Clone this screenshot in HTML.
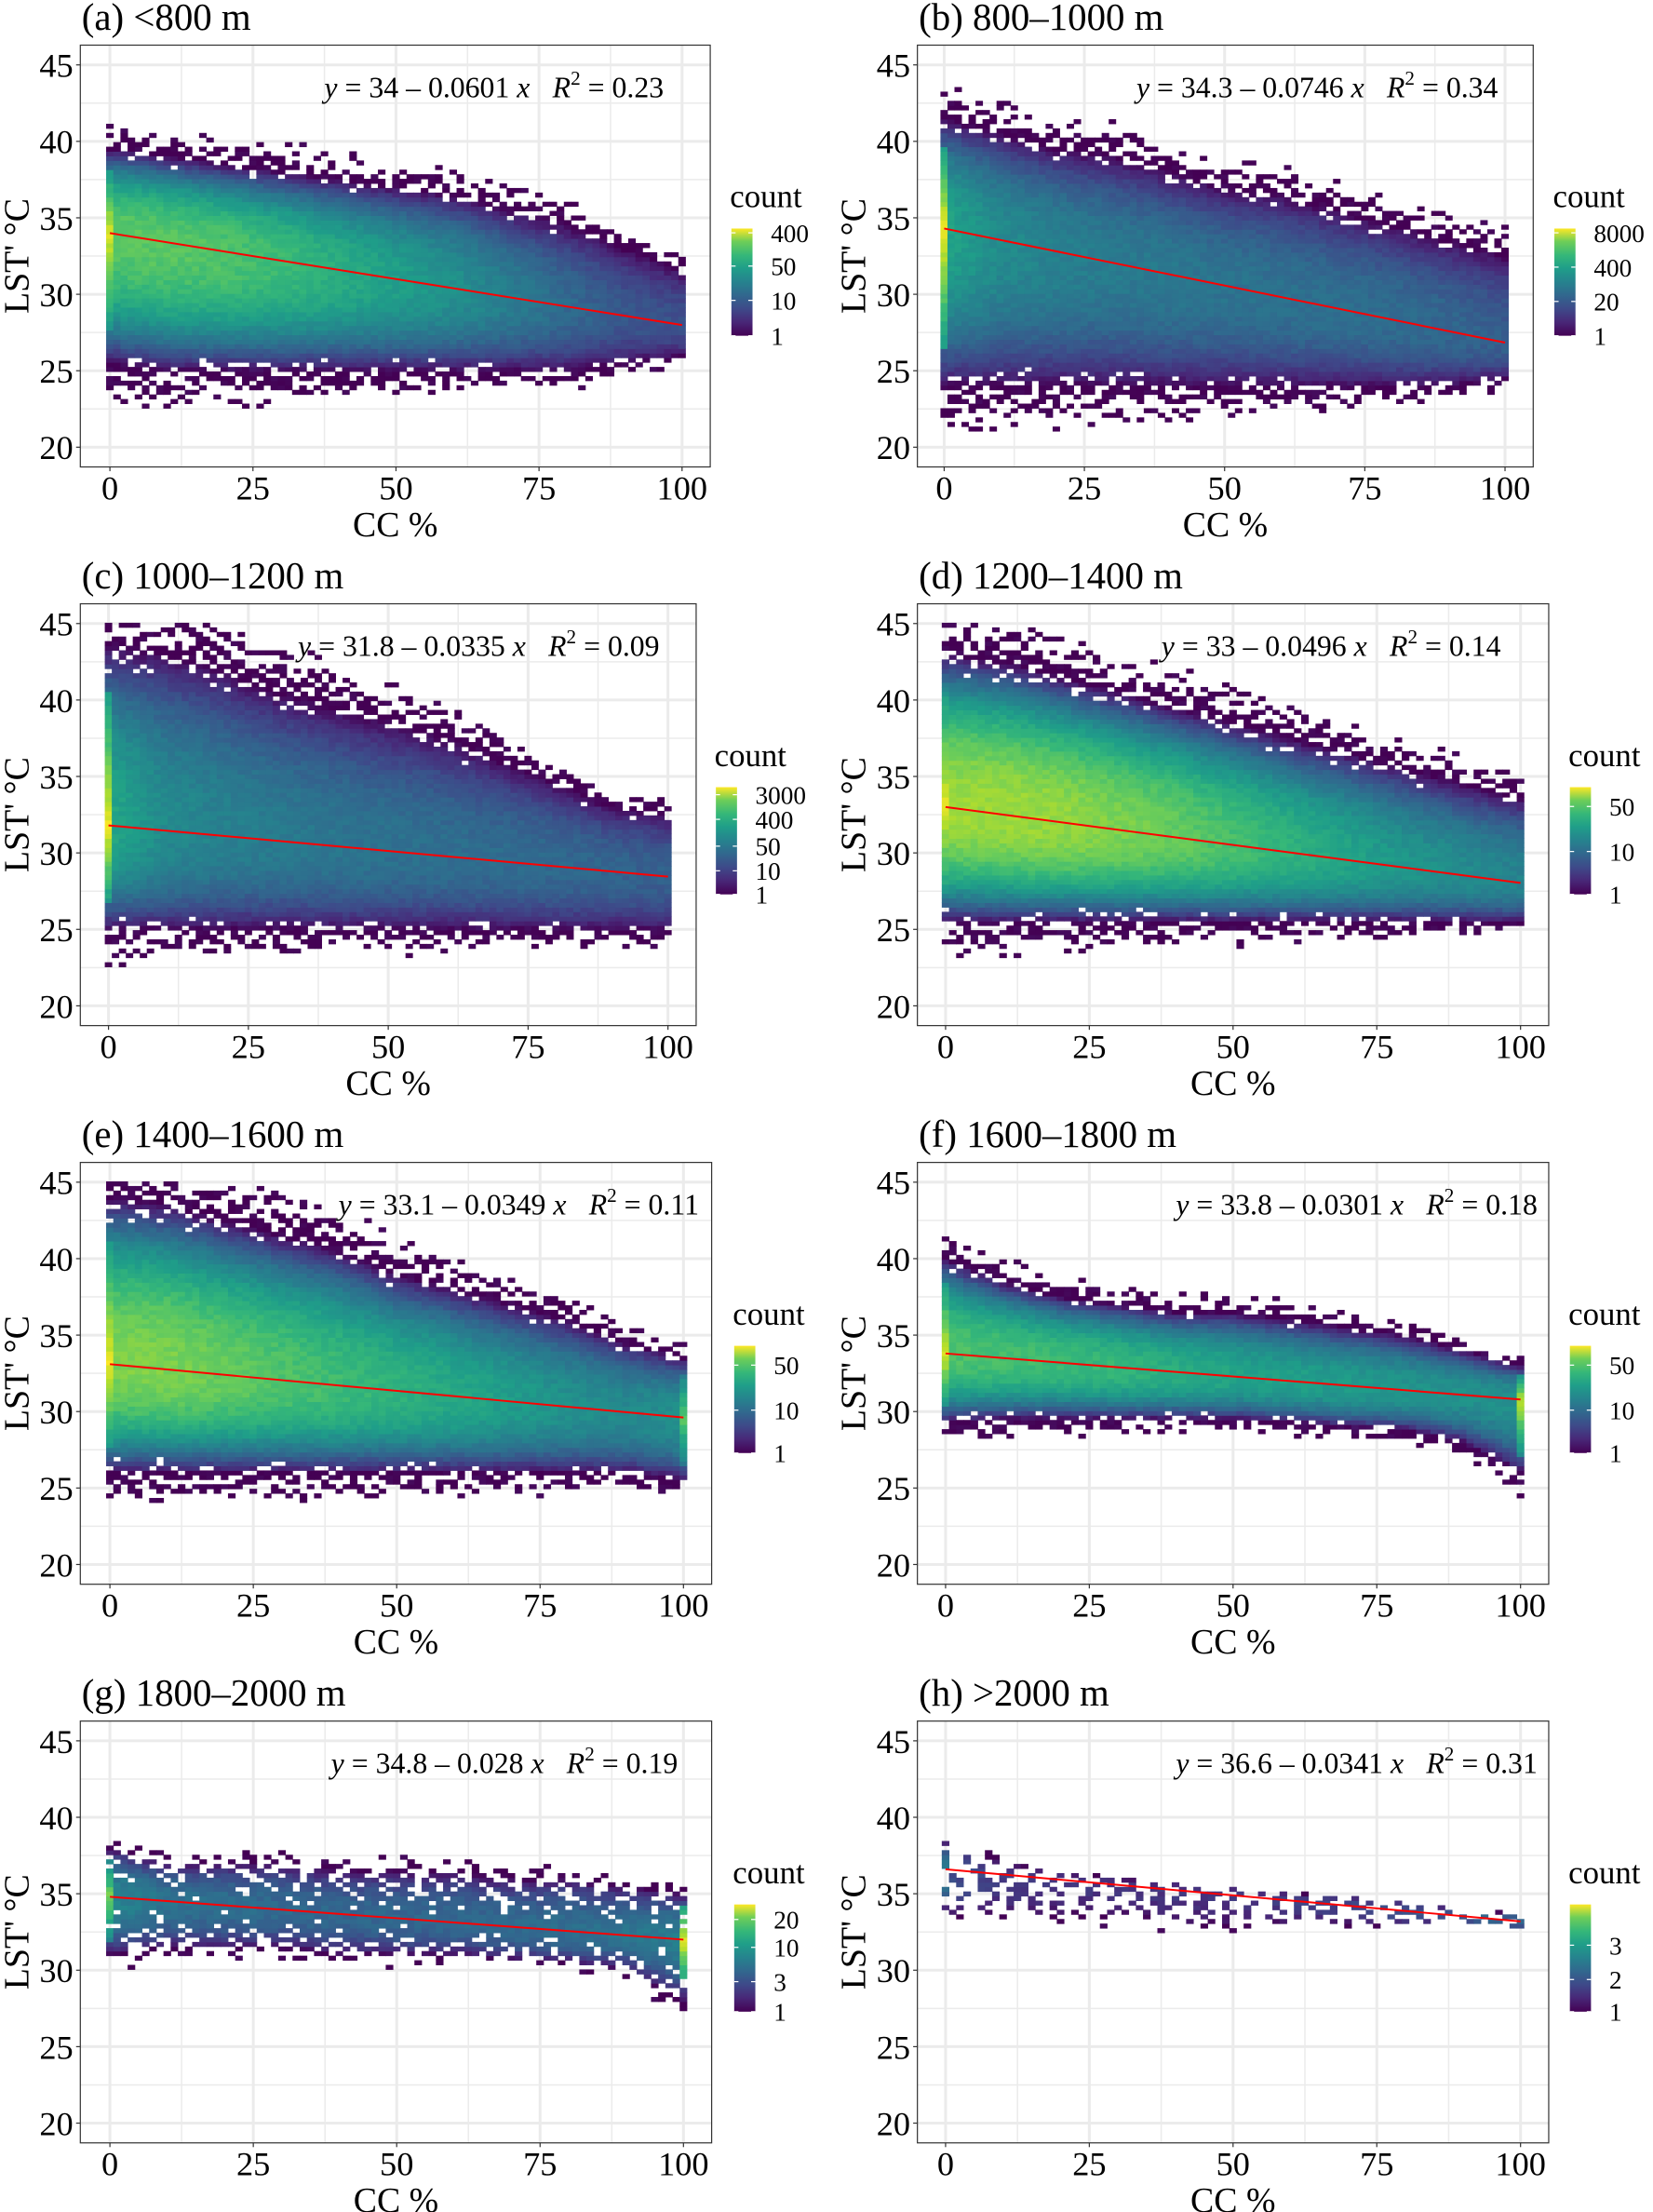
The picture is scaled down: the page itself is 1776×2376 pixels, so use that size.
<!DOCTYPE html>
<html><head><meta charset="utf-8">
<style>
html,body{margin:0;padding:0;background:#fff;}
svg{display:block;}
text{font-family:"Liberation Serif",serif;fill:#000;}
</style></head>
<body>
<svg id="fig" width="1776" height="2376" viewBox="0 0 1173 1568" preserveAspectRatio="none" xmlns="http://www.w3.org/2000/svg">
<defs>
<linearGradient id="vir" x1="0" y1="1" x2="0" y2="0">
<stop offset="0" stop-color="#440154"/><stop offset="0.13" stop-color="#482878"/><stop offset="0.25" stop-color="#3e4989"/><stop offset="0.38" stop-color="#31688e"/><stop offset="0.5" stop-color="#26828e"/><stop offset="0.63" stop-color="#1f9e89"/><stop offset="0.75" stop-color="#35b779"/><stop offset="0.88" stop-color="#6ece58"/><stop offset="1" stop-color="#fde725"/>
</linearGradient>
</defs>
</svg>
<script>
// ---- data ----
const panelTitles = ["(a) <800 m","(b) 800–1000 m","(c) 1000–1200 m","(d) 1200–1400 m","(e) 1400–1600 m","(f) 1600–1800 m","(g) 1800–2000 m","(h) >2000 m"];
const intercepts = [34, 34.3, 31.8, 33, 33.1, 33.8, 34.8, 36.6];
const slopes = [-0.0601, -0.0746, -0.0335, -0.0496, -0.0349, -0.0301, -0.028, -0.0341];
const r2Values = ["0.23","0.34","0.09","0.14","0.11","0.18","0.19","0.31"];
const ccSamples = [0,10,20,30,40,50,60,70,80,90,100];
const topEdge = [
 [39.5,39,38.5,38,37.5,37,36.5,35.5,34.5,33,31.5],
 [41.5,40.5,39.5,39,38,37,36.5,35.5,34.5,33.5,32.5],
 [43.5,43,42,40.5,39.5,38.5,37.5,36,34.5,33,32.5],
 [43,42.5,41.5,40.5,39.5,38.5,37.5,36.5,35.5,34.5,33.5],
 [44,43.5,42.5,41.5,40.5,39,38,37,36,34.5,33.5],
 [40,38.5,37.5,37,36.5,36.5,36,35.5,35,34,33],
 [38,37,37,37,36.5,36.5,36.5,36,36,35.5,35],
 [38.5,37,36.5,36,35.5,35.5,35,35,34.5,34,33.5]];
const bottomEdge = [
 [25.5,25,25,25,25,25,25,25,25,25.5,26],
 [24,24,24,24,24,24,24,24,24,24,24.5],
 [25,25,25,25,25,25,25,25,25,25,25],
 [25.5,25.5,25.5,25.5,25.5,25.5,25.5,25.5,25.5,25.5,25.5],
 [26,26,26,26,26,26,26,26,26,26,25.5],
 [29.3,29.5,29.5,29.5,29.5,29.5,29.3,29,28.8,28,26],
 [31,31.5,31.5,31.5,31,31,31,30.7,30.5,30,28],
 [33.5,33.5,33.5,33.5,33,33,33,33,33,33,33]];
const peakLevel = [
 [0.74,0.74,0.72,0.68,0.62,0.56,0.5,0.42,0.34,0.27,0.25],
 [0.58,0.48,0.44,0.41,0.4,0.38,0.37,0.36,0.35,0.33,0.3],
 [0.6,0.48,0.44,0.41,0.39,0.37,0.36,0.35,0.34,0.32,0.3],
 [0.85,0.85,0.84,0.8,0.76,0.7,0.64,0.58,0.52,0.48,0.45],
 [0.8,0.8,0.76,0.72,0.68,0.64,0.6,0.55,0.5,0.47,0.5],
 [0.72,0.7,0.68,0.66,0.62,0.58,0.56,0.54,0.52,0.5,0.5],
 [0.46,0.38,0.36,0.34,0.33,0.33,0.33,0.34,0.36,0.38,0.43],
 [0.25,0.18,0.15,0.15,0.15,0.15,0.18,0.2,0.25,0.3,0.35]];
const edgeColumnLevel = [[0.95,0],[0.98,0],[0.97,0],[0.97,0],[0.98,0.75],[0.95,0.9],[0.8,0.95],[0.45,0.3]];
const fillFraction = [1,1,1,1,1,1,0.8,0.35];
const legendLabels = [["1","10","50","400"],["1","20","400","8000"],["1","10","50","400","3000"],["1","10","50"],["1","10","50"],["1","10","50"],["1","3","10","20"],["1","2","3"]];
const legendFracs = [[0,0.33,0.65,0.96],[0,0.32,0.64,0.96],[0,0.22,0.45,0.7,0.93],[0,0.4,0.82],[0,0.4,0.82],[0,0.4,0.82],[0,0.28,0.6,0.86],[0,0.3,0.62]];
const yTicks = [20,25,30,35,40,45];
const xTicks = [0,25,50,75,100];

// ---- layout (display units) ----
const NS="http://www.w3.org/2000/svg";
const svg=document.getElementById('fig');
function mk(tag,attrs,parent){const e=document.createElementNS(NS,tag);for(const k in attrs)e.setAttribute(k,attrs[k]);(parent||svg).appendChild(e);return e;}
const geo=[
 {L:57,R:504,T:32,B:331,x0:78,x100:484,leg:519,eqEnd:471},
 {L:651,R:1088,T:32,B:331,x0:670,x100:1068,leg:1103,eqEnd:1063},
 {L:57,R:494,T:428,B:727,x0:77,x100:474,leg:508,eqEnd:468},
 {L:651,R:1099,T:428,B:727,x0:671,x100:1079,leg:1114,eqEnd:1065},
 {L:57,R:505,T:824,B:1123,x0:78,x100:485,leg:521,eqEnd:496},
 {L:651,R:1099,T:824,B:1123,x0:671,x100:1079,leg:1114,eqEnd:1091},
 {L:57,R:505,T:1220,B:1519,x0:78,x100:485,leg:521,eqEnd:481},
 {L:651,R:1099,T:1220,B:1519,x0:671,x100:1079,leg:1114,eqEnd:1091}];
const VIR=[[68,1,84],[72,40,120],[62,73,137],[49,104,142],[38,130,142],[31,158,137],[53,183,121],[110,206,88],[181,222,43],[253,231,37]];
function vir(t){t=Math.max(0,Math.min(1,t));const p=t*(VIR.length-1);const i=Math.min(VIR.length-2,Math.floor(p));const f=p-i;const a=VIR[i],b=VIR[i+1];return `rgb(${Math.round(a[0]+(b[0]-a[0])*f)},${Math.round(a[1]+(b[1]-a[1])*f)},${Math.round(a[2]+(b[2]-a[2])*f)})`;}
function hash(a,b,c){let h=(a*374761393+b*668265263+c*2147483647)>>>0;h=((h^(h>>>13))*1274126177)>>>0;return ((h^(h>>>16))>>>0)/4294967295;}
function interp(arr,x){const p=x/10;const i=Math.min(9,Math.floor(p));const f=p-i;return arr[i]+(arr[i+1]-arr[i])*f;}

for(let k=0;k<8;k++){
 const g=geo[k];
 const sx=v=>g.x0+(g.x100-g.x0)*v/100;
 const y45=g.T+14, y20=g.B-14;
 const sy=v=>y20+(y45-y20)*(v-20)/25;
 const grp=mk('g',{});
 
 
 mk('rect',{x:g.L,y:g.T,width:g.R-g.L,height:g.B-g.T,fill:'#fff'},grp);
 for(let v=12.5;v<=100;v+=25){mk('line',{x1:sx(v),x2:sx(v),y1:g.T,y2:g.B,stroke:'#ebebeb','stroke-width':1},grp);}
 for(let v=22.5;v<=45;v+=5){mk('line',{x1:g.L,x2:g.R,y1:sy(v),y2:sy(v),stroke:'#ebebeb','stroke-width':1},grp);}
 xTicks.forEach(v=>{mk('line',{x1:sx(v),x2:sx(v),y1:g.T,y2:g.B,stroke:'#ebebeb','stroke-width':2},grp);});
 yTicks.forEach(v=>{mk('line',{x1:g.L,x2:g.R,y1:sy(v),y2:sy(v),stroke:'#ebebeb','stroke-width':2},grp);});
 const cells=mk('g',{},grp);
 
 
 const dx=1.25, dy=0.3;
 const cw=Math.abs(sx(dx)-sx(0))+0.3, ch=Math.abs(sy(20+dy)-sy(20))+0.3;
 for(let ci=0;ci*dx<=100;ci++){
  const x=ci*dx;
  const center=intercepts[k]+slopes[k]*x;
  const top=interp(topEdge[k],x), bot=interp(bottomEdge[k],x), pk=interp(peakLevel[k],x);
  let colBoost=0;
  if(ci===0)colBoost=edgeColumnLevel[k][0];
  if(x>98.9)colBoost=edgeColumnLevel[k][1];
  for(let ri=0;20+ri*dy<=45;ri++){
   const y=20+ri*dy;
   let r = y>=center ? (y-center)/Math.max(0.5,top-center) : (center-y)/Math.max(0.5,center-bot);
   if(r>1.35)continue;
   const h=hash(k+1,ci,ri);
   if(r>0.85 && h<(r-0.85)/0.5)continue;
   if(fillFraction[k]<1 && hash(ri,k+7,ci)>fillFraction[k]*(1.3-r*0.6))continue;
   let t=pk*Math.pow(Math.max(0,1-Math.pow(Math.min(r,1),2.2)),0.8);
   if(colBoost>0 && r<0.75) t=Math.max(t,colBoost*(1-r*0.6));
   t+= (hash(ci,ri,k+3)-0.5)*0.06;
   mk('rect',{x:sx(x)-cw/2,y:sy(y+dy/2),width:cw,height:ch,fill:vir(t)},cells);
  }
 }
 const ln=mk('line',{x1:sx(0),y1:sy(intercepts[k]),x2:sx(100),y2:sy(intercepts[k]+slopes[k]*100),stroke:'#ff0000','stroke-width':1.3},grp);
 
 
 mk('rect',{x:g.L,y:g.T,width:g.R-g.L,height:g.B-g.T,fill:'none',stroke:'#333','stroke-width':0.8},grp);
 yTicks.forEach(v=>{
  mk('line',{x1:g.L-3,x2:g.L,y1:sy(v),y2:sy(v),stroke:'#333','stroke-width':0.8},grp);
  const t=mk('text',{x:g.L-5,y:sy(v)+8.5,'text-anchor':'end','font-size':24},grp);t.textContent=v;
  
  
 });
 xTicks.forEach(v=>{
  mk('line',{x1:sx(v),x2:sx(v),y1:g.B,y2:g.B+3,stroke:'#333','stroke-width':0.8},grp);
  const t=mk('text',{x:sx(v),y:g.B+23,'text-anchor':'middle','font-size':24},grp);t.textContent=v;
  
  
 });
 const xt=mk('text',{x:(g.L+g.R)/2,y:g.B+49,'text-anchor':'middle','font-size':25},grp);xt.textContent='CC %';
 
 
 const yc=(g.T+g.B)/2, yx=g.L-37;
 const yt=mk('text',{x:yx,y:yc,'text-anchor':'middle','font-size':25,transform:`rotate(-90 ${yx} ${yc})`},grp);yt.textContent="LST' °C";
 
 
 const tt=mk('text',{x:g.L+1,y:g.T-11,'font-size':27},grp);tt.textContent=panelTitles[k];
 
 
 const eq=mk('text',{x:g.eqEnd,y:g.T+37,'text-anchor':'end','font-size':21},grp);
 
 
 const b=Math.abs(slopes[k]);
 eq.innerHTML=`<tspan font-style="italic">y</tspan> = ${intercepts[k]} – ${b} <tspan font-style="italic">x</tspan><tspan dx="16" font-style="italic">R</tspan><tspan font-size="14" dy="-9">2</tspan><tspan dy="9"> = ${r2Values[k]}</tspan>`;
 const lg=mk('g',{},grp);
 
 
 const cbT=g.T+130, cbB=g.T+206;
 const lt=mk('text',{x:g.leg-1,y:cbT-15,'font-size':23},lg);lt.textContent='count';
 mk('rect',{x:g.leg,y:cbT,width:15,height:cbB-cbT,fill:'url(#vir)'},lg);
 legendLabels[k].forEach((lab,i)=>{
  const yy=cbB-(cbB-cbT)*legendFracs[k][i];
  mk('line',{x1:g.leg,x2:g.leg+3,y1:yy,y2:yy,stroke:'#fff','stroke-width':0.8},lg);
  mk('line',{x1:g.leg+12,x2:g.leg+15,y1:yy,y2:yy,stroke:'#fff','stroke-width':0.8},lg);
  const tx=mk('text',{x:g.leg+28,y:yy+6.5,'font-size':18},lg);tx.textContent=lab;
  
  
 });
}
</script>
</body></html>
